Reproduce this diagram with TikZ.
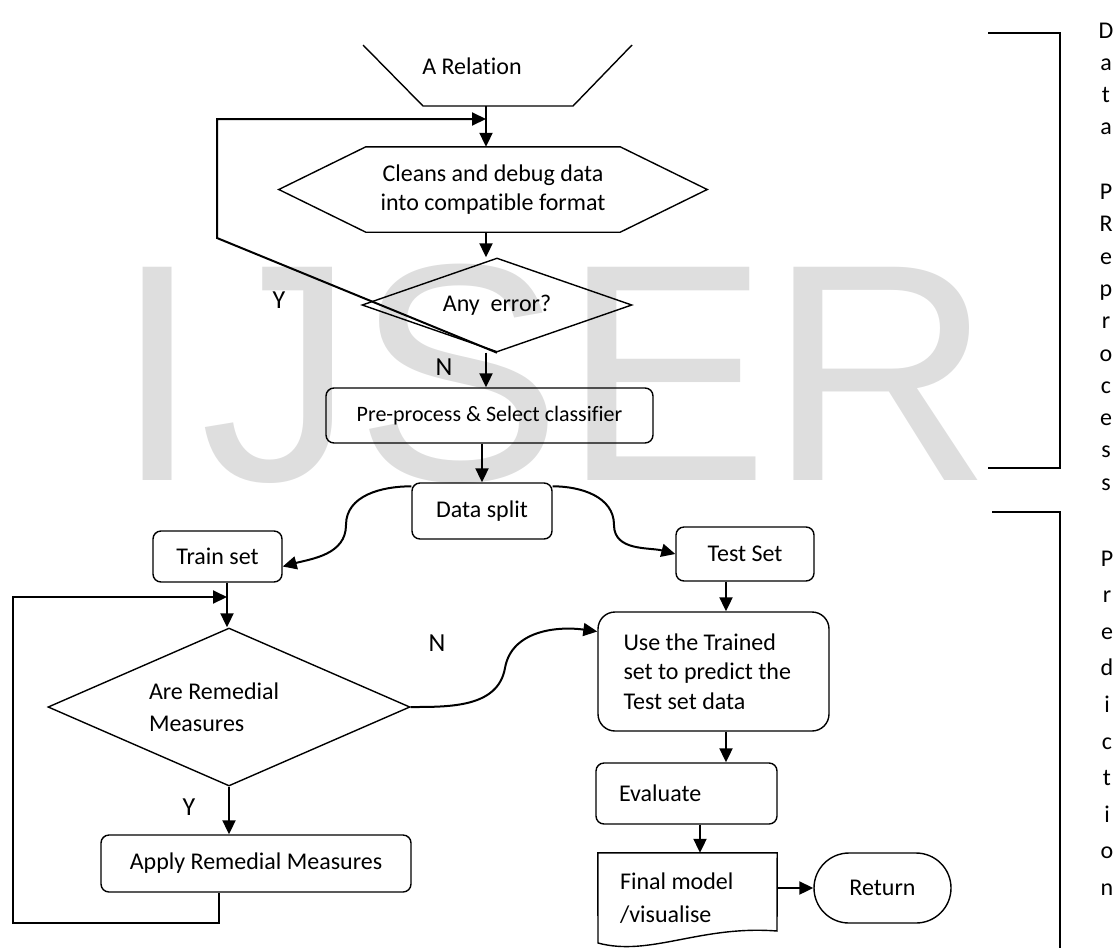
\documentclass[tikz,border=0pt]{standalone}
\usepackage{fontspec}
\setmainfont{Carlito}[Ligatures=NoCommon]
\newfontfamily\markfont{Liberation Sans}
\usetikzlibrary{shapes.geometric,arrows.meta}

\begin{document}
\begin{tikzpicture}[x=1pt,y=-1pt,
    font=\fontsize{24}{29.5}\selectfont,
    box/.style={draw,line width=1.4pt,rounded corners=8pt,inner sep=0pt},
    decision/.style={draw,diamond,line width=1.4pt,inner sep=0pt},
    arr/.style={-{Triangle[length=14pt,width=13pt]},line width=2pt},
    yn/.style={font=\fontsize{26}{30}\selectfont},
    side/.style={inner sep=0pt,anchor=base}]
  \useasboundingbox (0,0) rectangle (1115,948);

  % watermark
  \node[anchor=base west,inner sep=0pt,text=black!13,font=\markfont\fontsize{310}{310}\selectfont] (mark) at (114,480) {IJSER};

  % data preprocessing
  \draw[line width=1.4pt] (363,45) -- (423,106) -- (573,106) -- (632,45);
  \node (rel) at (472,66) {A Relation};
  \coordinate (relb) at (486,106);
  \coordinate (loopa) at (486,119);

  \node[minimum width=428pt,minimum height=85pt,align=center,inner sep=0pt]
        (clean) at (493,189.5) {Cleans and debug data\\into compatible format};
  \draw[line width=1.4pt] (clean.west) -- ([xshift=87pt]clean.north west) -- ([xshift=-87pt]clean.north east)
        -- (clean.east) -- ([xshift=-87pt]clean.south east) -- ([xshift=87pt]clean.south west) -- cycle;
  \node[decision,aspect=2.87,minimum width=270pt,minimum height=94pt] (err) at (497,305) {Any~ error?};

  \draw[arr] (relb) -- (relb |- clean.north);
  \draw[arr] (relb |- clean.south) -- (relb |- err.north);
  \draw[arr] (err.south) -- (217,238) -- (217,119) -- (loopa);
  \node[yn] (y1) at (279,300) {Y};
  \node[yn] (n1) at (444,367) {N};

  \node[box,font=\fontsize{22}{26}\selectfont,minimum width=327pt,minimum height=55pt] (prep) at (489.5,415.5) {Pre-process \& Select classifier};
  \draw[arr] (relb |- err.south) -- (relb |- prep.north);

  \node[box,minimum width=140pt,minimum height=56pt] (split) at (482,511) {Data split};
  \draw[arr] (split.north |- prep.south) -- (split.north);

  % train and test
  \node[box,minimum width=129pt,minimum height=51pt] (train) at (217.5,556.5) {Train set};
  \node[box,minimum width=138pt,minimum height=54pt] (test) at (745,554) {Test Set};
  \coordinate (lbend) at (346,525);
  \coordinate (rbend) at (614,525);
  \draw[arr] ([yshift=-4pt]split.north west) to[out=180,in=90] (lbend) to[out=-90,in=15] ([yshift=-10pt]train.east);
  \draw[arr] ([yshift=-4pt]split.north east) to[out=0,in=90] (rbend) to[out=-90,in=165] (test.west);

  % remedial loop
  \node[decision,aspect=2.29,minimum width=362pt,minimum height=158pt,text width=160pt,align=flush left,
        font=\fontsize{24}{32}\selectfont] (rem) at (229,707) {Are Remedial\\Measures};
  \coordinate (lcol) at (227,0);
  \coordinate (loopb) at (227,597);
  \draw[arr] (lcol |- train.south) -- (lcol |- rem.north);
  \node[box,minimum width=310pt,minimum height=57pt] (apply) at (256,863.5) {Apply Remedial Measures};
  \draw[arr] (rem.south) -- (rem.south |- apply.north);
  \node[yn] (y2) at (189,807) {Y};
  \coordinate (back) at (219,0);
  \draw[arr] (back |- apply.south) -- (219,923) -- (13,923) -- (13,597) -- (loopb);

  % prediction
  \node[box,rounded corners=17pt,minimum width=231pt,minimum height=119pt,text width=180pt,align=flush left]
        (use) at (713.5,671.5) {Use the Trained\\set to predict the\\Test set data};
  \coordinate (nbend) at (505,668);
  \draw[arr] (rem.east) to[out=0,in=-100] (nbend) to[out=80,in=172] ([yshift=40pt]use.west);
  \node[yn] (n2) at (437,643) {N};

  \coordinate (rcol) at (726,0);
  \draw[arr] (rcol |- test.south) -- (rcol |- use.north);
  \node[box,minimum width=181pt,minimum height=61pt,text width=135pt,align=flush left] (eval) at (686.5,793.5) {Evaluate};
  \draw[arr] (rcol |- use.south) -- (rcol |- eval.north);

  \node[minimum width=179pt,minimum height=90pt,text width=135pt,align=flush left,inner sep=0pt,
        font=\fontsize{24}{33}\selectfont] (final) at (687.5,898) {Final model\\/visualise};
  \draw[line width=1.4pt] (final.north west) -- (final.north east) -- (777,931)
        .. controls (700,925) and (650,957) .. (598,943) -- cycle;
  \coordinate (fcol) at (700,0);
  \draw[arr] (fcol |- eval.south) -- (fcol |- final.north);
  \node[box,rounded corners=35pt,minimum width=137pt,minimum height=70pt] (ret) at (882.5,888) {Return};
  \draw[arr] (final.east |- ret.west) -- (ret.west);

  % side brackets
  \draw[line width=1.4pt] (988,33) -- (1060,33) -- (1060,468) -- (988,468);
  \draw[line width=1.4pt] (992,512) -- (1060,512) -- (1060,948);
  \foreach \ch [count=\i] in {D,a,t,a,{},P,R,e,p,r,o,c,e,s,s}
    \node[side] (dp\i) at (1106,{38+32.3*(\i-1)}) {\ch};
  \foreach \ch [count=\i] in {P,r,e,d,i,c,t,i,o,n}
    \node[side] (pr\i) at (1107,{566+36.6*(\i-1)}) {\ch};
\end{tikzpicture}
\end{document}
